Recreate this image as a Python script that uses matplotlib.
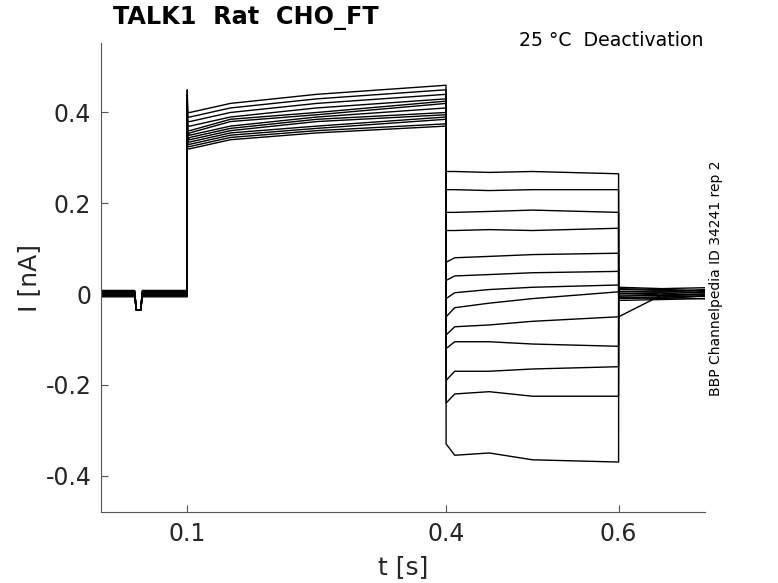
import numpy as np
import matplotlib.pyplot as plt

# sweep data (nA), vertices shared by all sweeps
t_hold = [0.0, 0.039, 0.041, 0.046, 0.048, 0.0999]
hold = [0.004, -0.002, 0.006, 0.0, -0.004, 0.008, 0.002,
        -0.006, 0.005, -0.001, 0.003, -0.003, 0.007]
dip = -0.035

t_pre = [0.1, 0.1005, 0.103, 0.15, 0.25, 0.3999]
pre = [
    [0.45, 0.40, 0.40, 0.42, 0.44, 0.46],
    [0.44, 0.39, 0.39, 0.41, 0.43, 0.45],
    [0.43, 0.38, 0.38, 0.40, 0.42, 0.44],
    [0.42, 0.37, 0.37, 0.39, 0.41, 0.43],
    [0.41, 0.36, 0.36, 0.385, 0.40, 0.425],
    [0.40, 0.35, 0.355, 0.38, 0.395, 0.42],
    [0.40, 0.35, 0.35, 0.37, 0.39, 0.41],
    [0.39, 0.34, 0.345, 0.365, 0.385, 0.40],
    [0.39, 0.34, 0.34, 0.36, 0.38, 0.395],
    [0.38, 0.335, 0.335, 0.355, 0.37, 0.39],
    [0.38, 0.33, 0.33, 0.35, 0.365, 0.385],
    [0.37, 0.325, 0.325, 0.345, 0.36, 0.375],
    [0.37, 0.32, 0.32, 0.34, 0.355, 0.37],
]

t_tail = [0.4, 0.41, 0.45, 0.5, 0.5999]
tail = [
    [0.27, 0.27, 0.268, 0.27, 0.265],
    [0.23, 0.23, 0.228, 0.23, 0.23],
    [0.18, 0.18, 0.182, 0.185, 0.18],
    [0.14, 0.14, 0.142, 0.14, 0.145],
    [0.07, 0.08, 0.083, 0.087, 0.09],
    [0.03, 0.04, 0.043, 0.047, 0.05],
    [-0.01, 0.003, 0.01, 0.015, 0.02],
    [-0.05, -0.03, -0.02, -0.01, 0.005],
    [-0.09, -0.072, -0.068, -0.06, -0.05],
    [-0.12, -0.105, -0.105, -0.11, -0.115],
    [-0.19, -0.17, -0.17, -0.165, -0.16],
    [-0.24, -0.22, -0.215, -0.225, -0.225],
    [-0.33, -0.355, -0.35, -0.365, -0.37],
]

t_post = [0.6, 0.65, 0.7]
post = [[0.005, 0.005, 0.003], [-0.004, -0.003, -0.005], [0.01, 0.008, 0.006],
        [0.0, 0.002, -0.002], [-0.008, -0.006, -0.004], [0.012, 0.01, 0.008],
        [0.002, -0.002, 0.0], [-0.01, -0.008, -0.01], [-0.05, -0.002, 0.0],
        [0.006, 0.004, 0.01], [-0.006, -0.01, -0.004], [0.015, 0.012, 0.014],
        [-0.014, -0.012, -0.01]]

plt.rcParams['font.family'] = 'DejaVu Sans'
fig = plt.figure(figsize=(7.78, 5.83), dpi=100)
ax = fig.add_axes([0.1298, 0.1218, 0.7763, 0.8044])

for i in range(len(hold)):
    h = hold[i]
    yh = [h, h, dip, dip, h, h]
    t = t_hold + t_pre + t_tail + t_post
    y = yh + pre[i] + tail[i] + post[i]
    ax.plot(t, y, color='black', lw=1.0)

ax.set_xlim(0, 0.7)
ax.set_ylim(-0.48, 0.553)
ax.set_xticks([0.1, 0.4, 0.6])
ax.set_xticklabels(['0.1', '0.4', '0.6'])
ax.set_yticks([-0.4, -0.2, 0, 0.2, 0.4])
ax.set_yticklabels(['-0.4', '-0.2', '0', '0.2', '0.4'])
ax.tick_params(direction='in', length=5, width=0.8, color='#555555',
               labelsize=17, labelcolor='#262626')
ax.tick_params(axis='y', pad=7)
ax.tick_params(axis='x', pad=7)
for s in ['top', 'right']:
    ax.spines[s].set_visible(False)
for s in ['left', 'bottom']:
    ax.spines[s].set_color('#555555')
    ax.spines[s].set_linewidth(0.8)

ax.set_xlabel('t [s]', fontsize=18, color='#262626', labelpad=7)
ax.set_ylabel('I [nA]', fontsize=18, color='#262626', labelpad=3)

fig.text(0.145, 0.969, 'TALK1  Rat  CHO_FT', fontsize=17.2, fontweight='bold',
         ha='left', va='center')
ax.text(0.998, 1.006, '25 \u00b0C  Deactivation', transform=ax.transAxes,
        fontsize=13.6, ha='right', va='center')
fig.text(0.920, 0.523, 'BBP Channelpedia ID 34241 rep 2', rotation=90,
         fontsize=10, ha='center', va='center')

fig.savefig('out.png', dpi=100)
